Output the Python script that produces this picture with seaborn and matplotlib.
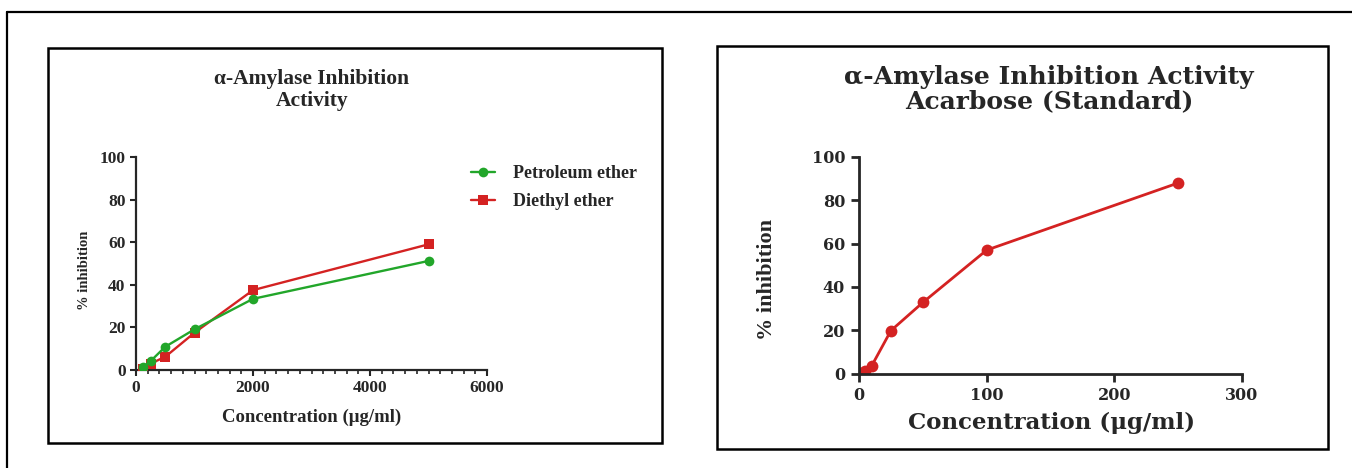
import matplotlib
matplotlib.use("Agg")
import matplotlib.pyplot as plt
import seaborn as sns
from matplotlib.patches import Rectangle
from matplotlib.lines import Line2D
from matplotlib.ticker import MultipleLocator

# ---------------- data ----------------
conc_left = [125, 250, 500, 1000, 2000, 5000]
petroleum = [1.5, 4.2, 10.9, 19.1, 33.4, 51.2]
diethyl = [0.5, 3.0, 6.2, 17.5, 37.5, 59.0]
series_left = ["Petroleum ether", "Diethyl ether"]

conc_right = [1, 5, 10, 25, 50, 100, 250]
acarbose = [0.2, 1.0, 3.6, 19.8, 32.8, 57.0, 88.0]

left_xticks = [0, 2000, 4000, 6000]
right_xticks = [0, 100, 200, 300]
yticks = [0, 20, 40, 60, 80, 100]

title_left = "α-Amylase Inhibition\nActivity"
title_right = "α-Amylase Inhibition Activity\nAcarbose (Standard)"
xlabel = "Concentration (μg/ml)"
ylabel = "% inhibition"

# ---------------- layout ----------------
W, H = 1352, 468
sns.set_style("ticks")
plt.rcParams["font.family"] = ["Liberation Serif", "DejaVu Serif"]
fig = plt.figure(figsize=(W / 100, H / 100), dpi=100)
fig.patch.set_facecolor("white")


def fx(px):
    return px / W


def fy(py):
    return 1 - py / H


# outer frame (top & left visible)
fig.add_artist(Line2D([fx(7), fx(1352)], [fy(12), fy(12)], color="black", lw=1.6,
                      transform=fig.transFigure))
fig.add_artist(Line2D([fx(7), fx(7)], [fy(12), fy(468)], color="black", lw=1.6,
                      transform=fig.transFigure))
# panel boxes
fig.add_artist(Rectangle((fx(48), fy(443)), fx(662) - fx(48), fy(48) - fy(443),
                         fill=False, ec="black", lw=1.8, transform=fig.transFigure))
fig.add_artist(Rectangle((fx(717), fy(449)), fx(1328) - fx(717), fy(46) - fy(449),
                         fill=False, ec="black", lw=1.8, transform=fig.transFigure))

GREEN = "#22a62a"
RED = "#d42222"

# ---------------- left chart ----------------
ax1 = fig.add_axes([fx(136), fy(370), fx(487) - fx(136), fy(157) - fy(370)])
sns.lineplot(x=conc_left, y=diethyl, ax=ax1, color=RED, marker="s", markersize=7,
             markeredgewidth=0, lw=1.7, label=series_left[1], zorder=3)
sns.lineplot(x=conc_left, y=petroleum, ax=ax1, color=GREEN, marker="o", markersize=7,
             markeredgewidth=0, lw=1.7, label=series_left[0], zorder=4)
ax1.set_xlim(0, 6000)
ax1.set_ylim(0, 100)
ax1.set_xticks(left_xticks)
ax1.set_yticks(yticks)
ax1.xaxis.set_minor_locator(MultipleLocator(200))
for s in ["top", "right"]:
    ax1.spines[s].set_visible(False)
for s in ["left", "bottom"]:
    ax1.spines[s].set_linewidth(1.6)
ax1.tick_params(which="major", direction="out", length=4.5, width=1.5, pad=3)
ax1.tick_params(which="minor", direction="out", length=3, width=1.2)
for lab in ax1.get_xticklabels() + ax1.get_yticklabels():
    lab.set_fontfamily("Liberation Serif")
    lab.set_fontweight("bold")
    lab.set_fontsize(12.5)
ax1.set_xlabel("")
ax1.set_ylabel("")
h, l = ax1.get_legend_handles_labels()
order = [l.index(series_left[0]), l.index(series_left[1])]
ax1.legend([h[i] for i in order], [l[i] for i in order], loc="upper left",
           bbox_to_anchor=(fx(462), fy(156)), bbox_transform=fig.transFigure,
           frameon=False, borderpad=0, handlelength=1.3, handletextpad=1.0,
           labelspacing=0.6, prop=dict(family="Liberation Serif", weight="bold", size=13))

fig.text(fx(312), fy(90), title_left, ha="center", va="center", fontsize=15.5,
         fontweight="bold", family="Liberation Serif", linespacing=1.12)
fig.text(fx(312), fy(417), xlabel, ha="center", va="center", fontsize=13.5,
         fontweight="bold", family="Liberation Serif")
fig.text(fx(84), fy(270), ylabel, ha="center", va="center", rotation=90, fontsize=10.5,
         fontweight="bold", family="Liberation Serif")

# ---------------- right chart ----------------
ax2 = fig.add_axes([fx(859), fy(373.5), fx(1242) - fx(859), fy(157) - fy(373.5)])
sns.lineplot(x=conc_right, y=acarbose, ax=ax2, color=RED, marker="o", markersize=8.5,
             markeredgewidth=0, lw=2)
ax2.set_xlim(0, 300)
ax2.set_ylim(0, 100)
ax2.set_xticks(right_xticks)
ax2.set_yticks(yticks)
for s in ["top", "right"]:
    ax2.spines[s].set_visible(False)
for s in ["left", "bottom"]:
    ax2.spines[s].set_linewidth(2.0)
ax2.tick_params(which="major", direction="out", length=6, width=2, pad=4)
for lab in ax2.get_xticklabels() + ax2.get_yticklabels():
    lab.set_fontfamily("DejaVu Serif")
    lab.set_fontweight("bold")
    lab.set_fontsize(11.5)
ax2.set_xlabel("")
ax2.set_ylabel("")

fig.text(fx(1049), fy(89), title_right, ha="center", va="center", fontsize=18,
         fontweight="bold", family="DejaVu Serif", linespacing=1.05)
fig.text(fx(1051), fy(423), xlabel, ha="center", va="center", fontsize=16.5,
         fontweight="bold", family="DejaVu Serif")
fig.text(fx(767), fy(280), ylabel, ha="center", va="center", rotation=90, fontsize=16,
         fontweight="bold", family="Liberation Serif")

fig.savefig("out.png", dpi=100, facecolor="white")
